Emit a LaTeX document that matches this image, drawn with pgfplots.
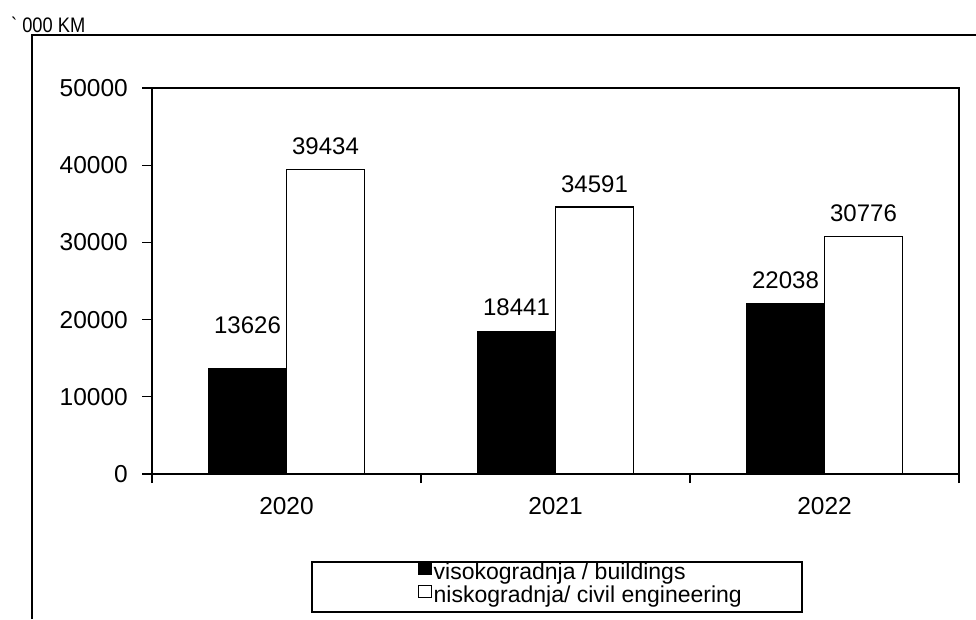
\documentclass[border=0pt]{standalone}
\usepackage{pgfplots}
\pgfplotsset{compat=1.18}
\usepackage{pgfplotstable}
\usepackage{fontspec}
\setmainfont{Liberation Sans}

\pgfplotsset{sqlegend/.style={legend image code/.code={%
  \draw[##1, line width=1pt] (0pt,-0.5pt) rectangle (12.5pt,12pt);}}}

% x = category index, y = value, dy = label lift above the bar (pt)
\pgfplotstableread{
x y dy
0 13626 35
1 18441 15
2 22038 15
}\buildings
\pgfplotstableread{
x y dy
0 39434 14
1 34591 14
2 30776 14
}\civil

\begin{document}
\begin{tikzpicture}[x=1pt,y=1pt]
\useasboundingbox (0,0) rectangle (976,619);
\draw[line width=1.4pt] (32,0) -- (32,584) -- (976,584);
\node[anchor=base west, inner sep=0pt, font=\fontsize{21}{24}\selectfont, xscale=0.87] at (11,586) {\textasciigrave\ 000 KM};
\begin{axis}[
  at={(152pt,145pt)}, anchor=south west,
  width=807pt, height=386pt, scale only axis,
  ybar=0pt, bar width=78pt,
  xmin=-0.5, xmax=2.5, ymin=0, ymax=50000,
  xtick={0,1,2}, xticklabels={2020,2021,2022},
  minor xtick={-0.5,0.5,1.5,2.5},
  ytick={0,10000,...,50000},
  scaled y ticks=false,
  tick align=outside, xtick pos=bottom, ytick pos=left,
  major x tick style={draw=none},
  major tick length=10pt, minor tick length=9pt,
  every tick/.style={black, line width=1.3pt},
  axis line style={line width=1.3pt},
  tick label style={font=\fontsize{24.5}{28}\selectfont},
  xticklabel style={anchor=north, inner sep=0pt, yshift=-13pt},
  yticklabel style={anchor=east, inner sep=0pt, xshift=-14pt},
  nodes near coords,
  visualization depends on={\thisrow{dy} \as \dy},
  nodes near coords style={font=\fontsize{24}{28}\selectfont, anchor=south, inner sep=0pt, yshift=\dy pt, black},
  legend style={at={(axis description cs:0.3296,-0.287)}, anchor=west,
    draw=none, fill=none, inner sep=0pt, row sep=0pt, column sep=2pt,
    font=\fontsize{23}{23}\selectfont,
    nodes={inner sep=0pt, text height=16pt, text depth=5pt}},
  legend cell align=left,
  /pgf/number format/fixed,
  /pgf/number format/precision=0,
  /pgf/number format/1000 sep={},
  /pgf/number format/assume math mode=true,
]
\addplot[fill=black, draw=black, line width=1pt, sqlegend]
  table[x=x, y=y] {\buildings};
\addlegendentry{visokogradnja / buildings}
\addplot[fill=white, draw=black, line width=1.3pt, sqlegend]
  table[x=x, y=y] {\civil};
\addlegendentry{niskogradnja/ civil engineering}
\end{axis}
\draw[line width=1.4pt] (312,7) rectangle (802,57);
\end{tikzpicture}
\end{document}
